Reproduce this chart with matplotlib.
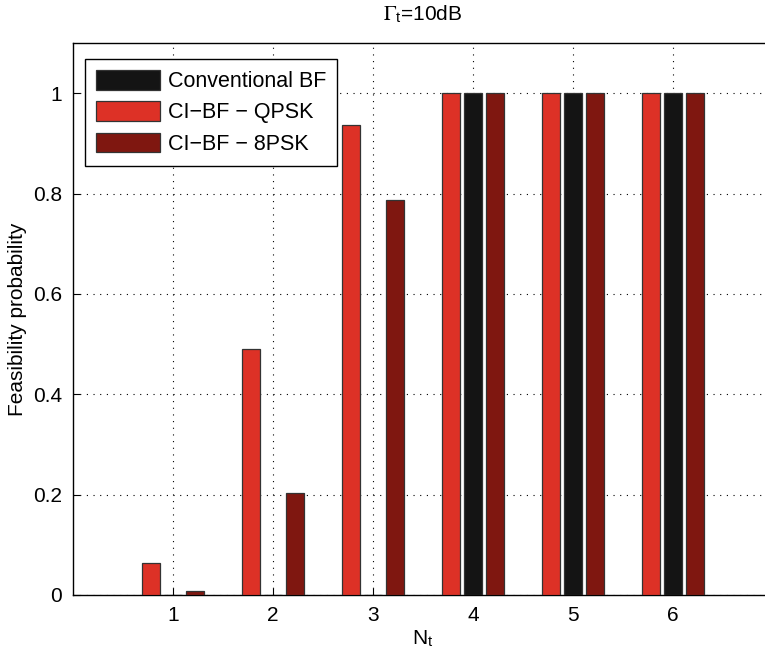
import numpy as np
import matplotlib
matplotlib.use('Agg')
from matplotlib import pyplot as plt

plt.rcParams['font.family'] = ['Liberation Sans', 'DejaVu Sans']
plt.rcParams['mathtext.fontset'] = 'stix'

# Data
nt = [1, 2, 3, 4, 5, 6]
conventional = [0.0, 0.0, 0.0, 1.0, 1.0, 1.0]
ci_qpsk = [0.063, 0.491, 0.936, 1.0, 1.0, 1.0]
ci_8psk = [0.008, 0.203, 0.787, 1.0, 1.0, 1.0]
yticks = [0, 0.2, 0.4, 0.6, 0.8, 1]

fig = plt.figure(figsize=(7.65, 6.54), dpi=100)
# axes run past the right side of the figure, as in the original crop
ax = fig.add_axes([73/765, 1 - 595/654, 700/765, 552/654])

x = np.array(nt)
w = 0.18
off = 0.22
ec = '#333333'
b_conv = ax.bar(x, conventional, w, color='#141414', edgecolor=ec, linewidth=0.9, zorder=3)
b_qpsk = ax.bar(x - off, ci_qpsk, w, color='#dd3126', edgecolor=ec, linewidth=0.9, zorder=3)
b_8psk = ax.bar(x + off, ci_8psk, w, color='#7f1710', edgecolor=ec, linewidth=0.9, zorder=3)

ax.set_xlim(0, 7)
ax.set_ylim(0, 1.1)
ax.set_xticks(nt)
ax.set_yticks(yticks)
ax.set_yticklabels(['0', '0.2', '0.4', '0.6', '0.8', '1'])
ax.tick_params(direction='in', labelsize=15, length=5, width=0.8, pad=8)
ax.grid(True, linestyle=(0, (1, 5)), color='black', linewidth=0.8, zorder=0)
for s in ax.spines.values():
    s.set_linewidth(1.0)
ax.spines['right'].set_visible(False)

ax.set_xlabel('N$_\\mathregular{t}$', fontsize=15, labelpad=2)
ax.set_ylabel('Feasibility probability', fontsize=15, labelpad=4)
ax.set_title('$\\Gamma_\\mathregular{t}$=10dB', fontsize=15, pad=16, x=(423 - 73)/700)

leg = ax.legend([b_conv, b_qpsk, b_8psk],
                ['Conventional BF', 'CI\u2212BF \u2212 QPSK', 'CI\u2212BF \u2212 8PSK'],
                loc='upper left', bbox_to_anchor=(12/700, 1 - 16/552), borderaxespad=0,
                fontsize=15.5, fancybox=False, edgecolor='black', framealpha=1,
                handlelength=3.0, handleheight=1.05, labelspacing=0.42,
                handletextpad=0.35, borderpad=0.5)
leg.get_frame().set_linewidth(1.0)
leg.set_zorder(5)

fig.savefig('out.png', dpi=100)
